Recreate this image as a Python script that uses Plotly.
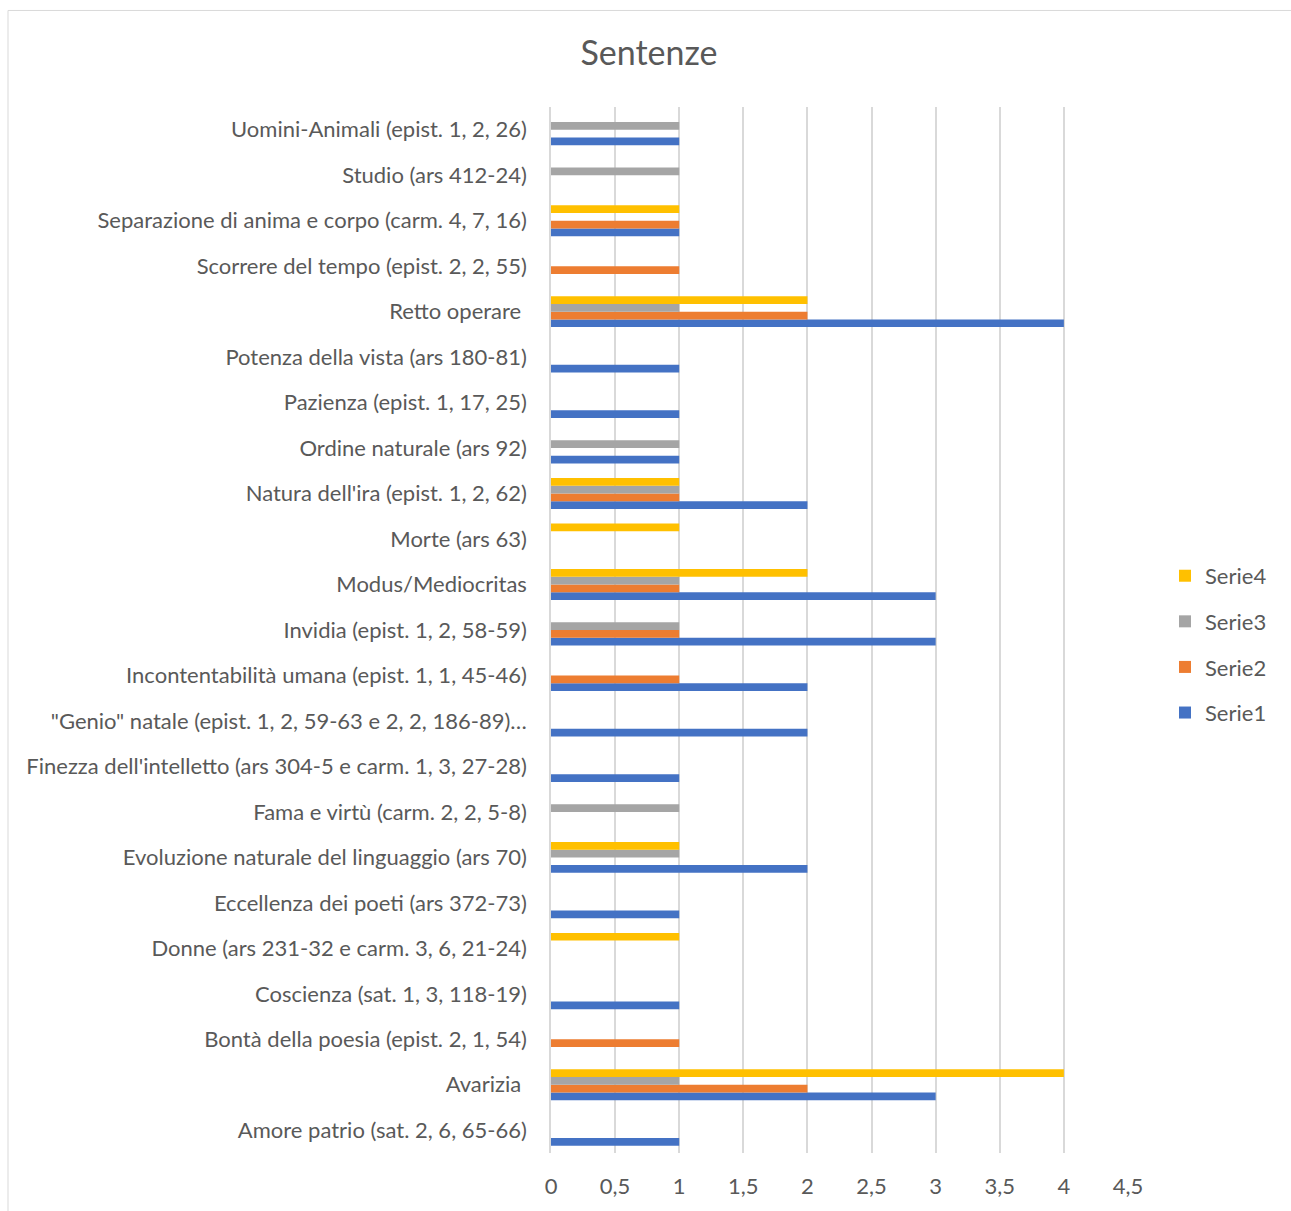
import plotly.graph_objects as go

categories = [
    "Amore patrio (sat. 2, 6, 65-66)",
    "Avarizia\u00a0",
    "Bontà della poesia (epist. 2, 1, 54)",
    "Coscienza (sat. 1, 3, 118-19)",
    "Donne (ars 231-32 e carm. 3, 6, 21-24)",
    "Eccellenza dei poeti (ars 372-73)",
    "Evoluzione naturale del linguaggio (ars 70)",
    "Fama e virtù (carm. 2, 2, 5-8)",
    "Finezza dell'intelletto (ars 304-5 e carm. 1, 3, 27-28)",
    "\"Genio\" natale (epist. 1, 2, 59-63 e 2, 2, 186-89)…",
    "Incontentabilità umana (epist. 1, 1, 45-46)",
    "Invidia (epist. 1, 2, 58-59)",
    "Modus/Mediocritas",
    "Morte (ars 63)",
    "Natura dell'ira (epist. 1, 2, 62)",
    "Ordine naturale (ars 92)",
    "Pazienza (epist. 1, 17, 25)",
    "Potenza della vista (ars 180-81)",
    "Retto operare\u00a0",
    "Scorrere del tempo (epist. 2, 2, 55)",
    "Separazione di anima e corpo (carm. 4, 7, 16)",
    "Studio (ars 412-24)",
    "Uomini-Animali (epist. 1, 2, 26)",
]

serie1 = [1, 3, None, 1, None, 1, 2, None, 1, 2, 2, 3, 3, None, 2, 1, 1, 1, 4, None, 1, None, 1]
serie2 = [None, 2, 1, None, None, None, None, None, None, None, 1, 1, 1, None, 1, None, None, None, 2, 1, 1, None, None]
serie3 = [None, 1, None, None, None, None, 1, 1, None, None, None, 1, 1, None, 1, 1, None, None, 1, None, None, 1, 1]
serie4 = [None, 4, None, None, 1, None, 1, None, None, None, None, None, 2, 1, 1, None, None, None, 2, None, 1, None, None]

series_names = ["Serie1", "Serie2", "Serie3", "Serie4"]
series_values = [serie1, serie2, serie3, serie4]
colors = ["#4472C4", "#ED7D31", "#A5A5A5", "#FFC000"]

x_ticks = [0, 0.5, 1, 1.5, 2, 2.5, 3, 3.5, 4, 4.5]
x_tick_text = ["0", "0,5", "1", "1,5", "2", "2,5", "3", "3,5", "4", "4,5"]

FONT = "Lato"
TXT = "#595959"
FS = 22

W, H = 1291, 1211
L, R, T, B = 551, 1128, 107, 1158

fig = go.Figure()
n = len(series_names)
for i, (name, vals, col) in enumerate(zip(series_names, series_values, colors)):
    fig.add_trace(go.Bar(
        y=categories, x=vals, name=name, orientation="h",
        marker=dict(color=col, line=dict(width=0)),
        legendgroup=name, legendrank=n - i,
    ))

pw = R - L
ph = B - T

def px_x(p):
    return (p - L) / pw

def px_y(p):
    return (B - p) / ph

fig.add_shape(type="rect", xref="paper", yref="paper",
              x0=px_x(8), x1=px_x(1300), y0=px_y(1220), y1=px_y(10),
              line=dict(color="#D9D9D9", width=1), fillcolor="rgba(0,0,0,0)",
              layer="below")

fig.update_layout(
    width=W, height=H,
    margin=dict(l=L, r=W - R, t=T, b=H - B, pad=0),
    paper_bgcolor="white", plot_bgcolor="white",
    barmode="group", bargap=0.32, bargroupgap=0,
    font=dict(family=FONT, color=TXT, size=FS),
    title=dict(text="Sentenze", x=649 / W, xref="container", xanchor="center",
               y=1 - 53 / H, yref="container", yanchor="middle",
               font=dict(family=FONT, size=34, color=TXT)),
    legend=dict(traceorder="grouped", x=px_x(1165), xanchor="left",
                y=px_y(647), yanchor="middle", font=dict(size=FS, color=TXT),
                tracegroupgap=14, bgcolor="rgba(0,0,0,0)"),
    xaxis=dict(range=[0, 4.5], tickvals=x_ticks, ticktext=x_tick_text,
               showgrid=True, gridcolor="#D9D9D9", gridwidth=1.5, zeroline=False,
               showline=False, ticks="", ticklabelstandoff=18,
               tickfont=dict(size=FS, color=TXT), fixedrange=True),
    yaxis=dict(type="category", categoryorder="array", categoryarray=categories,
               showgrid=False, zeroline=False, showline=True, linecolor="#D9D9D9",
               linewidth=1.5,
               ticks="", ticklabelstandoff=18, tickfont=dict(size=FS, color=TXT)),
)

fig.write_html("out.html")
